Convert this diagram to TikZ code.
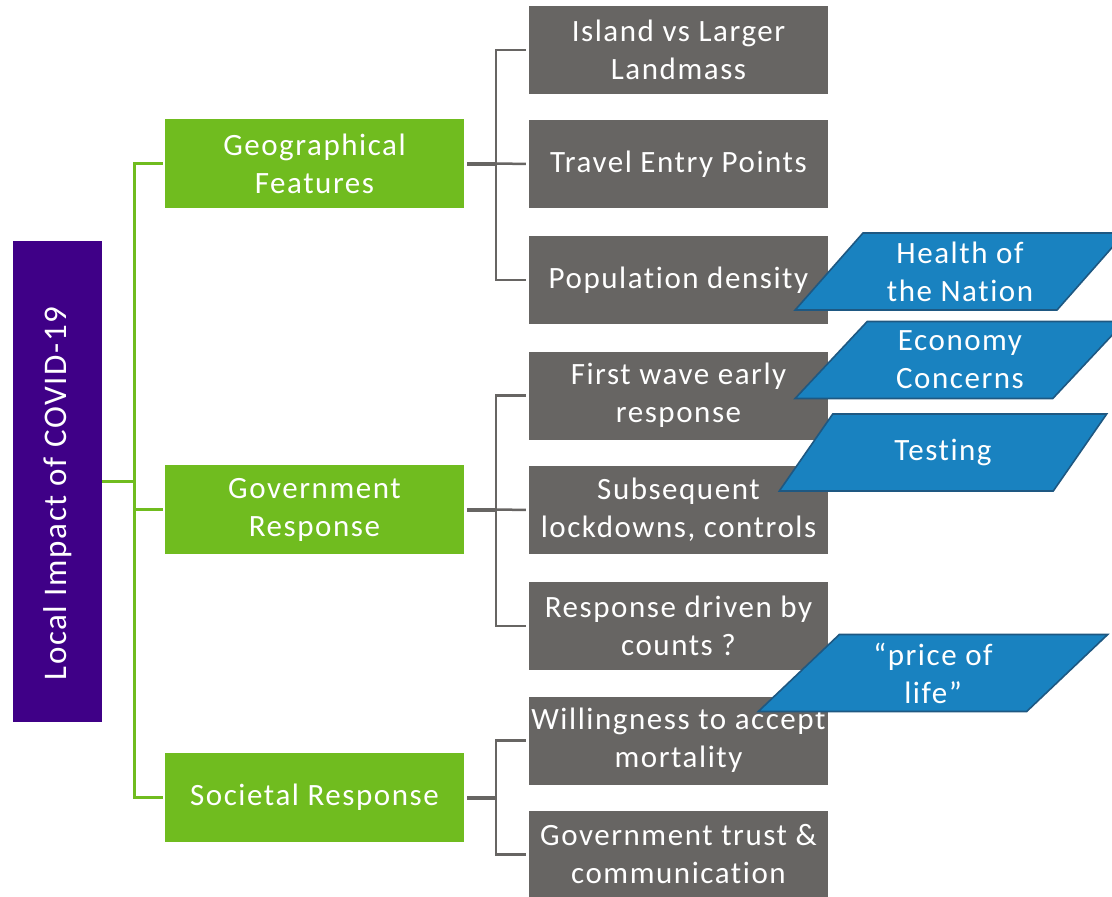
\documentclass[tikz,border=0pt]{standalone}
\usepackage{fontspec}
\setmainfont{Carlito}[LetterSpace=5, Ligatures={NoCommon}]
\usetikzlibrary{positioning,shapes.geometric}

\definecolor{rootpurple}{RGB}{63,0,135}
\definecolor{branchgreen}{RGB}{112,188,31}
\definecolor{leafgray}{RGB}{103,101,99}
\definecolor{notefill}{RGB}{25,130,192}
\definecolor{noteedge}{RGB}{30,88,130}

\begin{document}
\begin{tikzpicture}[
  x=1pt, y=-1pt,
  font=\fontsize{31}{38}\selectfont,
  rootbox/.style={fill=rootpurple, text=white, minimum width=481pt, minimum height=89pt, rotate=90, inner sep=2pt,
    font=\fontsize{33}{38}\selectfont},
  branch/.style={fill=branchgreen, text=white, align=center, minimum width=299pt, minimum height=89pt, inner sep=2pt},
  leaf/.style={fill=leafgray, text=white, align=center, minimum width=299pt, minimum height=88pt, inner sep=2pt},
  note/.style={trapezium, trapezium left angle=50, trapezium right angle=130, trapezium stretches=true,
    draw=noteedge, line width=1.6pt, fill=notefill, text=white, align=center, minimum height=77pt, inner sep=1pt},
  gline/.style={branchgreen, line width=3pt},
  stub/.style={leafgray, line width=4pt},
  lline/.style={leafgray, line width=2.5pt}
]
\clip (0,0) rectangle (1112,897);
\fill[white] (0,0) rectangle (1112,897);

% root and main branches
\node[rootbox] (root) at (57.5,481.5) {Local Impact of COVID-19\hspace*{24pt}};
\node[branch] (geo) at (314.5,163.5) {Geographical\\Features};
\node[branch] (gov) at (314.5,509.5) {Government\\Response};
\node[branch] (soc) at (314.5,797.5) {Societal Response};

% leaves
\node[leaf] (island) at (678.5,50) {Island vs Larger\\Landmass};
\node[leaf] (travel) at (678.5,164) {Travel Entry Points};
\node[leaf] (density) at (678.5,280) {Population density};
\node[leaf] (firstwave) at (678.5,395.5) {First wave early\\response};
\node[leaf] (lockdowns) at (678.5,510) {Subsequent\\lockdowns, controls};
\node[leaf] (counts) at (678.5,626) {Response driven by\\counts ?};
\node[leaf] (mortality) at (678.5,740.5) {Willingness to accept\\mortality};
\node[leaf] (trust) at (678.5,854.5) {Government trust \&\\communication};

% green tree
\coordinate (trunk) at (134,481.5);
\draw[gline] (root.south) -- (trunk);
\draw[gline, shorten >=2pt] (trunk) |- (geo.west);
\draw[gline, shorten >=2pt] (trunk) |- (gov.west);
\draw[gline, shorten >=2pt] (trunk) |- (soc.west);

% gray tree
\draw[stub] ([xshift=3pt]geo.east) -- ++(29,0) coordinate (geoj);
\draw[lline, shorten >=3pt] (geoj) |- (island.west);
\draw[lline, shorten >=3pt] (geoj) -- (travel.west);
\draw[lline, shorten >=3pt] (geoj) |- (density.west);

\draw[stub] ([xshift=3pt]gov.east) -- ++(29,0) coordinate (govj);
\draw[lline, shorten >=3pt] (govj) |- (firstwave.west);
\draw[lline, shorten >=3pt] (govj) -- (lockdowns.west);
\draw[lline, shorten >=3pt] (govj) |- (counts.west);

\draw[stub] ([xshift=3pt]soc.east) -- ++(29,0) coordinate (socj);
\draw[lline, shorten >=3pt] (socj) |- (mortality.west);
\draw[lline, shorten >=3pt] (socj) |- (trust.west);

% notes
\node[note, minimum width=330pt] (health) at (960,271.5) {Health of\\the Nation};
\node[note, minimum width=330pt] (economy) at (960,360) {Economy\\Concerns};
\node[note, minimum width=328pt] (testing) at (943,452.5) {Testing};
\node[note, minimum width=350pt] (price) at (933,673) {“price of\\life”};
\end{tikzpicture}
\end{document}
